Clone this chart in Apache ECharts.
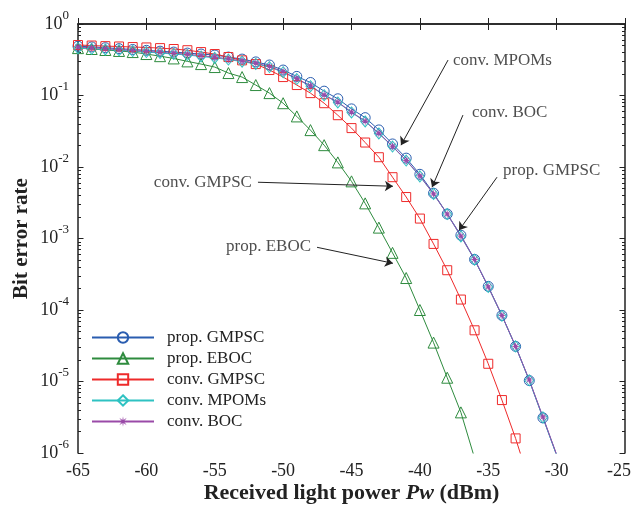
<!DOCTYPE html>
<html>
<head>
<meta charset="utf-8">
<script src="https://cdn.jsdelivr.net/npm/echarts@6/dist/echarts.min.js"></script>
<style>
html, body { margin: 0; padding: 0; background: #fff; }
#chart { width: 633px; height: 505px; }
</style>
</head>
<body>
<div id="chart"></div>
<script>
// received light power (dBm), one marker per dB
const powerDbm = [-65, -64, -63, -62, -61, -60, -59, -58, -57, -56, -55, -54, -53, -52, -51, -50, -49, -48,
  -47, -46, -45, -44, -43, -42, -41, -40, -39, -38, -37, -36, -35, -34, -33, -32, -31, -30]

// bit error rate for each curve (starting at -65 dBm)
const propGmpsc = [0.49, 0.478, 0.466, 0.452, 0.44, 0.428, 0.417, 0.405, 0.392, 0.38, 0.368, 0.345, 0.323, 0.295,
  0.267, 0.227, 0.185, 0.152, 0.115, 0.09, 0.065, 0.049, 0.033, 0.021, 0.0133, 0.0079, 0.0043, 0.0022, 0.00111,
  5.1e-4, 2.14e-4, 8.4e-5, 3.1e-5, 1.03e-5, 3.1e-6, 9.3e-7]
const propEboc = [0.46, 0.447, 0.433, 0.42, 0.405, 0.38, 0.355, 0.33, 0.30, 0.275, 0.25, 0.206, 0.181, 0.14,
  0.108, 0.078, 0.051, 0.0328, 0.0202, 0.0116, 0.0063, 0.0031, 0.00142, 6.3e-4, 2.8e-4, 1.0e-4, 3.5e-5,
  1.13e-5, 3.7e-6, 8.5e-7]
const convGmpsc = [0.508, 0.50, 0.49, 0.485, 0.476, 0.47, 0.46, 0.447, 0.43, 0.405, 0.38, 0.345, 0.31, 0.275,
  0.227, 0.181, 0.14, 0.108, 0.078, 0.053, 0.035, 0.022, 0.0137, 0.0072, 0.0038, 0.0019, 8.4e-4, 3.6e-4,
  1.4e-4, 5.2e-5, 1.77e-5, 5.5e-6, 1.6e-6, 4e-7]
const convMpoms = [0.46, 0.45, 0.44, 0.43, 0.418, 0.405, 0.393, 0.38, 0.368, 0.352, 0.336, 0.318, 0.298, 0.276,
  0.25, 0.212, 0.17, 0.135, 0.101, 0.08, 0.058, 0.0433, 0.0294, 0.0193, 0.0123, 0.0074, 0.0042, 0.0022,
  0.00107, 5.05e-4, 2.1e-4, 8.3e-5, 3.1e-5, 1.04e-5, 3.15e-6, 9.4e-7]
const convBoc = [0.476, 0.465, 0.452, 0.44, 0.428, 0.415, 0.403, 0.39, 0.378, 0.36, 0.345, 0.325, 0.305, 0.283,
  0.255, 0.215, 0.172, 0.137, 0.102, 0.081, 0.0586, 0.0438, 0.0297, 0.0195, 0.0124, 0.0075, 0.0042, 0.0022,
  0.00108, 5.1e-4, 2.1e-4, 8.4e-5, 3.1e-5, 1.05e-5, 3.2e-6, 9.5e-7]

// annotations: text anchor and arrow (data coordinates)
const annoLabels = ['conv. MPOMs', 'conv. BOC', 'prop. GMPSC', 'conv. GMPSC', 'prop. EBOC']
const annoTextPos = [[-37.58, 0.313], [-36.19, 0.0586], [-33.92, 0.00902], [-52.28, 0.00612], [-47.96, 7.78e-4]]
const annoSide = ['right', 'right', 'right', 'left', 'left']
const annoArrowFrom = [[-37.94, 0.313], [-36.85, 0.0532], [-34.36, 0.0072], [-51.84, 0.00612], [-47.52, 7.53e-4]]
const annoArrowTo = [[-41.38, 0.0202], [-39.11, 0.00521], [-37.14, 0.0013], [-41.97, 0.00538], [-41.97, 4.5e-4]]

const fontFamily = '"Liberation Serif", "Times New Roman", serif'

function pairs(values) {
  return values.map((v, i) => [powerDbm[i], v])
}

// asterisk marker for conv. BOC
function asterisk() {
  let pts = []
  for (let i = 0; i < 16; i++) {
    let a = i * Math.PI / 8
    let r = i % 2 === 0 ? 10 : 3
    pts.push((10 + r * Math.sin(a)).toFixed(2) + ' ' + (10 - r * Math.cos(a)).toFixed(2))
  }
  return 'path://M' + pts.join(' L') + ' Z'
}

// all ticks of the log axis: 1..9 in each decade
let logTicks = []
for (let d = -6; d < 0; d++) {
  for (let k = 1; k <= 9; k++) logTicks.push(k * Math.pow(10, d))
}
logTicks.push(1)

const hollow = 'rgba(255,255,255,0)'

function lineSeries(name, values, color, symbol, size, filled) {
  return {
    name: name,
    type: 'line',
    data: pairs(values),
    symbol: symbol,
    symbolSize: size,
    lineStyle: { color: color, width: 1 },
    itemStyle: filled ? { color: color } : { color: hollow, borderColor: color, borderWidth: 1 },
    emphasis: { disabled: true }
  }
}

const yLabel = {
  fontFamily: fontFamily,
  color: '#222',
  margin: 9,
  formatter: function (v) {
    let e = Math.round(Math.log10(v))
    return '{b|10}{s|' + e + '}'
  },
  rich: {
    b: { fontSize: 18, fontFamily: fontFamily, color: '#222', lineHeight: 30 },
    s: { fontSize: 13, fontFamily: fontFamily, color: '#222', verticalAlign: 'top', lineHeight: 30 }
  }
}

const axisLine = { show: true, lineStyle: { color: '#222', width: 1.5 } }
const tickStyle = { color: '#222', width: 1 }

// log axis carrying the data, drawing the short ticks
function logAxis(position) {
  return {
    type: 'log',
    position: position,
    logBase: 10,
    min: 1e-6,
    max: 1,
    interval: 1,
    axisLine: axisLine,
    splitLine: { show: false },
    axisTick: { show: true, inside: true, length: 3, customValues: logTicks, lineStyle: tickStyle },
    axisLabel: position === 'left' ? yLabel : { show: false }
  }
}

// exponent axis that only draws the longer decade ticks
function decadeAxis(position) {
  return {
    type: 'value',
    position: position,
    min: -6,
    max: 0,
    interval: 1,
    axisLine: { show: false },
    splitLine: { show: false },
    axisTick: { show: true, inside: true, length: 5.5, lineStyle: tickStyle },
    axisLabel: { show: false }
  }
}

var myChart = echarts.init(document.getElementById('chart'))
let option = {
  animation: false,
  backgroundColor: '#fff',
  grid: { left: 78, right: 8, top: 24, bottom: 52, outerBoundsMode: 'none' },
  legend: {
    orient: 'vertical',
    left: 86,
    top: 324,
    itemWidth: 62,
    itemHeight: 13,
    itemGap: 4,
    selectedMode: false,
    textStyle: { fontFamily: fontFamily, fontSize: 17, color: '#222', lineHeight: 17, padding: [0, 0, 0, 8] },
    data: ['prop. GMPSC', 'prop. EBOC', 'conv. GMPSC', 'conv. MPOMs', 'conv. BOC']
  },
  xAxis: [{
    type: 'value',
    position: 'bottom',
    min: -65,
    max: -25,
    interval: 5,
    name: '{b|Received light power }{i|Pw}{b| (dBm)}',
    nameLocation: 'middle',
    nameGap: 29,
    nameMoveOverlap: false,
    nameTextStyle: {
      rich: {
        b: { fontFamily: fontFamily, fontSize: 22, fontWeight: 'bold', color: '#222' },
        i: { fontFamily: fontFamily, fontSize: 22, fontWeight: 'bold', fontStyle: 'italic', color: '#222' }
      }
    },
    axisLine: axisLine,
    splitLine: { show: false },
    axisTick: { show: true, inside: true, length: 6, lineStyle: tickStyle },
    axisLabel: {
      fontFamily: fontFamily,
      fontSize: 18,
      color: '#222',
      margin: 9,
      formatter: function (v) {
        return v === -25 ? '{e|' + v + '}' : String(v)
      },
      rich: { e: { fontFamily: fontFamily, fontSize: 18, color: '#222', padding: [0, 12, 0, 0] } }
    }
  }, {
    type: 'value',
    position: 'top',
    min: -65,
    max: -25,
    interval: 5,
    axisLine: axisLine,
    splitLine: { show: false },
    axisTick: { show: true, inside: true, length: 6, lineStyle: tickStyle },
    axisLabel: { show: false }
  }],
  yAxis: [
    Object.assign(logAxis('left'), {
      name: 'Bit error rate',
      nameLocation: 'middle',
      nameGap: 46,
      nameMoveOverlap: false,
      nameTextStyle: { fontFamily: fontFamily, fontSize: 21, fontWeight: 'bold', color: '#222' }
    }),
    logAxis('right'),
    decadeAxis('left'),
    decadeAxis('right')
  ],
  series: [
    lineSeries('prop. GMPSC', propGmpsc, '#2a5db0', 'circle', 10, false),
    lineSeries('prop. EBOC', propEboc, '#2e8b3e', 'triangle', 11, false),
    lineSeries('conv. GMPSC', convGmpsc, '#ee2a2a', 'rect', 9, false),
    lineSeries('conv. MPOMs', convMpoms, '#2ec2c2', 'diamond', [9, 11], false),
    lineSeries('conv. BOC', convBoc, '#9a4aa8', asterisk(), 10, true),
    {
      name: 'annotations',
      type: 'scatter',
      yAxisIndex: 1,
      symbolSize: 0,
      silent: true,
      data: annoTextPos.map((p, i) => ({
        value: p,
        label: { show: true, position: annoSide[i], distance: 0, formatter: annoLabels[i] }
      })),
      label: { fontFamily: fontFamily, fontSize: 17, color: '#222' },
      markLine: {
        silent: true,
        symbol: ['none', 'arrow'],
        symbolSize: 8,
        label: { show: false },
        lineStyle: { color: '#222', width: 1, type: 'solid' },
        data: annoArrowFrom.map((p, i) => [{ coord: p }, { coord: annoArrowTo[i] }])
      }
    }
  ]
}
myChart.setOption(option)
</script>
</body>
</html>
